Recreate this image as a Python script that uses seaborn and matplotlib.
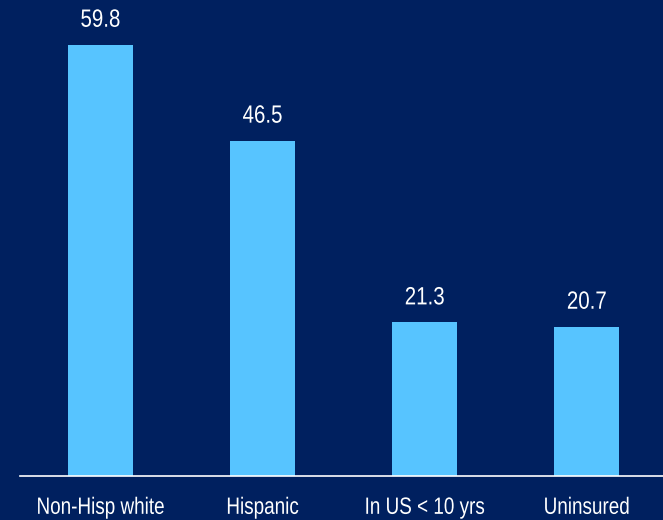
import matplotlib
matplotlib.use("Agg")
import matplotlib.pyplot as plt
from matplotlib.patheffects import AbstractPathEffect
from matplotlib.transforms import Affine2D
import seaborn as sns
import pandas as pd

categories = ["Non-Hisp white", "Hispanic", "In US < 10 yrs", "Uninsured"]
values = [59.8, 46.5, 21.3, 20.7]
value_labels = ["59.8", "46.5", "21.3", "20.7"]

BG = "#00205F"
BAR = "#57C4FF"


class Squeeze(AbstractPathEffect):
    """Horizontally condense glyphs around their own centre (narrow font look)."""
    def __init__(self, sx=0.8):
        super().__init__()
        self.sx = sx

    def draw_path(self, renderer, gc, tpath, affine, rgbFace=None):
        ext = tpath.get_extents()
        cx = (ext.x0 + ext.x1) / 2
        t = Affine2D().translate(-cx, 0).scale(self.sx, 1).translate(cx, 0)
        renderer.draw_path(gc, tpath, t + affine, rgbFace)


sns.set_theme(style="white")
plt.rcParams["font.family"] = ["Liberation Sans", "DejaVu Sans"]

df = pd.DataFrame({"cat": categories, "val": values})

fig = plt.figure(figsize=(6.63, 5.2), dpi=100)
fig.patch.set_facecolor(BG)
ax = fig.add_axes([20 / 663, 44 / 520, 643 / 663, 476 / 520])
ax.set_facecolor(BG)

sns.barplot(data=df, x="cat", y="val", color=BAR, saturation=1, width=0.4,
            edgecolor="none", linewidth=0, ax=ax)

for p, lab in zip(ax.patches, value_labels):
    ax.text(p.get_x() + p.get_width() / 2, p.get_height() + 1.8, lab,
            ha="center", va="bottom", color="white", fontsize=18,
            path_effects=[Squeeze(0.82)])

ax.set_xlim(-0.496, 3.47)
ax.set_ylim(0, 66.0)
ax.set_xlabel("")
ax.set_ylabel("")
ax.set_yticks([])
ax.tick_params(axis="x", length=0, pad=15, labelsize=17, colors="white")
for t in ax.get_xticklabels():
    t.set_path_effects([Squeeze(0.8)])
for s in ["top", "right", "left"]:
    ax.spines[s].set_visible(False)
ax.spines["bottom"].set_color("white")
ax.spines["bottom"].set_linewidth(1.2)

fig.savefig("out.png", dpi=100, facecolor=BG)
